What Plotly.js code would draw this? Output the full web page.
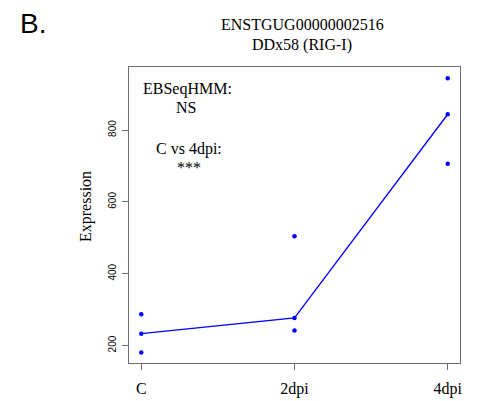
<!DOCTYPE html>
<html>
<head>
<meta charset="utf-8">
<script src="https://cdn.plot.ly/plotly-3.0.1.min.js"></script>
<style>html,body{margin:0;padding:0;background:#fff;}#chart{width:483px;height:401px;}</style>
</head>
<body>
<div id="chart"></div>
<script>
const categories = ["C", "2dpi", "4dpi"];
const replicate1 = [287, 504, 944];
const replicate2 = [233, 277, 844];
const replicate3 = [181, 242, 706];
const lineValues = [233, 277, 844];
const yTickVals = [200, 400, 600, 800];
const yTickText = ["200", "400", "600", "800"];

const blue = "#0000FF";
const serif = "Liberation Serif, Times New Roman, serif";
const sans = "Liberation Sans, Arial, sans-serif";

const ptX = [], ptY = [];
[replicate1, replicate2, replicate3].forEach(r => {
  r.forEach((v, i) => { ptX.push(categories[i]); ptY.push(v); });
});

const traces = [
  {x: categories, y: lineValues, type: "scatter", mode: "lines",
   line: {color: blue, width: 1.3}, hoverinfo: "skip"},
  {x: ptX, y: ptY, type: "scatter", mode: "markers",
   marker: {color: blue, size: 4.5}, hoverinfo: "skip"}
];

// pixel helpers for annotation placement inside the plot area
const px = x => (x - 129) / 331;
const py = y => (363 - y) / 296;
const txt = (text, x, y) => ({text: text, xref: "paper", yref: "paper", x: px(x), y: py(y),
  xanchor: "center", yanchor: "middle", showarrow: false, borderpad: 0,
  font: {family: serif, size: 16, color: "#000"}});

const layout = {
  width: 483, height: 401,
  margin: {l: 129, r: 23, t: 67, b: 38},
  paper_bgcolor: "#fff", plot_bgcolor: "#fff",
  showlegend: false,
  xaxis: {
    type: "category", range: [-0.08, 2.08],
    showgrid: false, zeroline: false,
    showline: true, mirror: true, linecolor: "#6e6e6e", linewidth: 1,
    ticks: "outside", ticklen: 6, tickcolor: "#6e6e6e", tickwidth: 1,
    tickfont: {family: serif, size: 16, color: "#000"},
    ticklabelstandoff: 5
  },
  yaxis: {
    range: [151.5, 975.5],
    showgrid: false, zeroline: false,
    showline: true, mirror: true, linecolor: "#6e6e6e", linewidth: 1,
    ticks: "outside", ticklen: 6, tickcolor: "#6e6e6e", tickwidth: 1,
    tickvals: yTickVals, ticktext: yTickText, tickangle: -90,
    tickfont: {family: sans, size: 10, color: "#000"},
    ticklabelstandoff: 2
  },
  annotations: [
    {text: "B.", xref: "paper", yref: "paper", x: 0, xshift: -110, y: py(23.3), xanchor: "left", yanchor: "middle",
     showarrow: false, borderpad: 0, font: {family: sans, size: 28, color: "#000"}},
    {text: "ENSTGUG00000002516", xref: "paper", yref: "paper", x: px(302), y: 1, yshift: 42.5,
     xanchor: "center", yanchor: "middle", showarrow: false, borderpad: 0, font: {family: serif, size: 16, color: "#000"}},
    {text: "DDx58 (RIG-I)", xref: "paper", yref: "paper", x: px(302), y: 1, yshift: 22.5,
     xanchor: "center", yanchor: "middle", showarrow: false, borderpad: 0, font: {family: serif, size: 16, color: "#000"}},
    {text: "Expression", xref: "paper", yref: "paper", x: 0, xshift: -43, y: py(207),
     xanchor: "center", yanchor: "middle", textangle: -90, showarrow: false,
     font: {family: serif, size: 16, color: "#000"}},
    txt("EBSeqHMM:", 187.2, 89.4),
    txt("NS", 185.8, 107.9),
    txt("C vs 4dpi:", 188.8, 149.2),
    txt("***", 188.7, 167.6)
  ]
};

Plotly.newPlot("chart", traces, layout, {displayModeBar: false, staticPlot: true});
</script>
</body>
</html>
